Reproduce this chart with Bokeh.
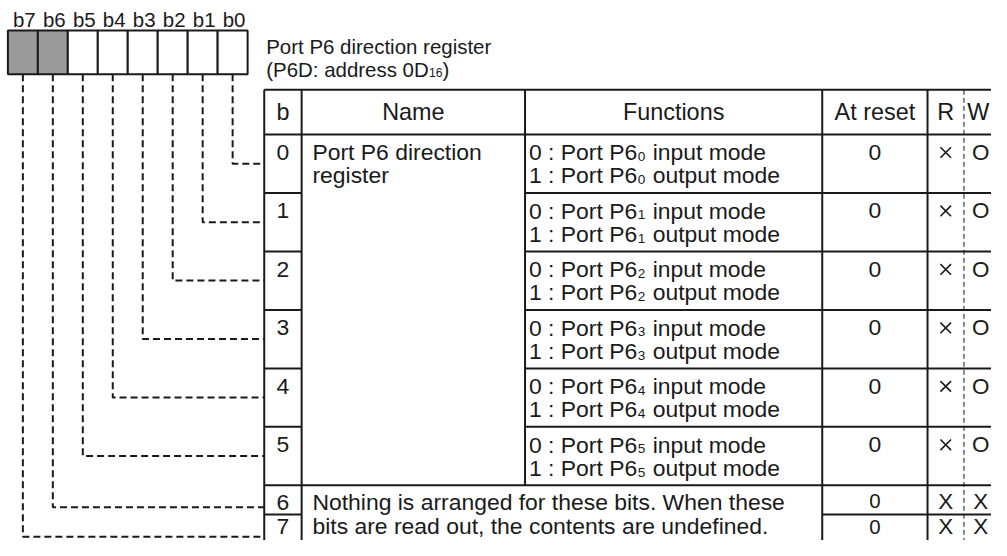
from bokeh.plotting import figure
from bokeh.models import Range1d
from bokeh.embed import file_html
from bokeh.resources import INLINE
from bokeh.core.properties import value

# ---------------- data ----------------
bit_labels = ["b7", "b6", "b5", "b4", "b3", "b2", "b1", "b0"]
bit_reserved = [True, True, False, False, False, False, False, False]
title_line1 = "Port P6 direction register"
title_line2_pre = "(P6D: address 0D"
title_line2_sub = "16"
title_line2_post = ")"
headers = ["b", "Name", "Functions", "At reset", "R", "W"]
row_bits = ["0", "1", "2", "3", "4", "5", "6", "7"]
name_lines = ["Port P6 direction", "register"]
func_prefix = ["0 : Port P6", "1 : Port P6"]
func_sub = ["0", "1", "2", "3", "4", "5"]
func_suffix = ["input mode", "output mode"]
reserved_lines = ["Nothing is arranged for these bits. When these",
                  "bits are read out, the contents are undefined."]
reset_values = ["0", "0", "0", "0", "0", "0", "0", "0"]
read_marks = ["×", "×", "×", "×", "×", "×", "X", "X"]
write_marks = ["O", "O", "O", "O", "O", "O", "X", "X"]

# ---------------- layout / style ----------------
W_PX, H_PX = 991, 540
REF_W, REF_H = 1007.0, 556.0
SX = W_PX / REF_W
FSC = 0.975           # font scale (canvas vs reference)
FONT = "Liberation Sans"
INK = "#1a1a1a"
GRAY = "#9a9a9a"

BOX_X0, CELL_W, BOX_Y0, BOX_Y1 = 7.5, 30.45, 31.0, 76.0
COLS = [268.0, 306.0, 533.0, 835.0, 942.0, 979.0, 1013.0]
HDR_TOP, HDR_BOT, ROW_H = 92.0, 138.0, 60.2
tops = [HDR_BOT + k * ROW_H for k in range(6)] + [499.2, 529.2]
bottoms = tops[1:] + [559.2]

# Arial advance widths (em) for positioning subscripts
AW = {' ': .278, ':': .278, 'P': .667, 'o': .556, 'r': .333, 't': .278, '(': .333,
      ')': .333, 'D': .722, 'a': .556, 'd': .556, 'e': .556, 's': .5}
for dgt in "0123456789":
    AW[dgt] = .556


def tw(s, size_ref):
    # width in data units of string s drawn at reference size size_ref
    return sum(AW.get(c, .556) for c in s) * size_ref * FSC / SX


p = figure(width=W_PX, height=H_PX, output_backend="svg", toolbar_location=None,
           x_range=Range1d(0, REF_W), y_range=Range1d(REF_H, 0), min_border=0)
p.axis.visible = False
p.grid.visible = False
p.outline_line_color = None
p.background_fill_color = "white"
p.border_fill_color = "white"


def txt(xs, bases, texts, size=23.5, align="left"):
    ys = [b - 0.355 * size for b in bases]
    p.text(x=xs, y=ys, text=texts, text_font=value(FONT),
           text_font_size=f"{size * FSC:.2f}px",
           text_align=align, text_baseline="middle", text_color=INK)


# ---- register box ----
lefts = [BOX_X0 + CELL_W * i for i in range(len(bit_labels))]
rights = [l + CELL_W for l in lefts]
centers = [l + CELL_W / 2 for l in lefts]
p.quad(left=lefts, right=rights, top=[BOX_Y0] * 8, bottom=[BOX_Y1] * 8,
       fill_color=[GRAY if r else "white" for r in bit_reserved],
       line_color=INK, line_width=2)
txt([c + 1.5 for c in centers], [27.0] * 8, bit_labels, size=21, align="center")

# ---- connectors ----
conn_y = [tops[k] + 30 for k in range(6)] + [tops[6] + 22.5, tops[7] + 23]
xs, ys = [], []
for i, lab in enumerate(bit_labels):
    n = int(lab[1])
    xs.append([centers[i], centers[i], COLS[0]])
    ys.append([BOX_Y1, conn_y[n], conn_y[n]])
p.multi_line(xs=xs, ys=ys, line_color=INK, line_width=2, line_dash="7 4")

# ---- title ----
TX = 270.0
txt([TX], [55.0], [title_line1], size=21)
txt([TX], [78.0], [title_line2_pre], size=21)
sx = TX + tw(title_line2_pre, 21)
txt([sx], [79.0], [title_line2_sub], size=12.5)
txt([sx + tw(title_line2_sub, 12.5)], [78.0], [title_line2_post], size=21)

# ---- table grid ----
x0s, y0s, x1s, y1s = [], [], [], []


def seg(a, b, c, d):
    x0s.append(a); y0s.append(b); x1s.append(c); y1s.append(d)


bottom = bottoms[-1]
seg(COLS[0], HDR_TOP, COLS[-1], HDR_TOP)
seg(COLS[0], HDR_BOT, COLS[-1], HDR_BOT)
seg(COLS[0], bottom, COLS[-1], bottom)
for cx in [COLS[0], COLS[1], COLS[3], COLS[4], COLS[6]]:
    seg(cx, HDR_TOP, cx, bottom)
seg(COLS[2], HDR_TOP, COLS[2], tops[6])
for k in range(1, 6):
    seg(COLS[0], tops[k], COLS[1], tops[k])
    seg(COLS[2], tops[k], COLS[-1], tops[k])
seg(COLS[0], tops[6], COLS[-1], tops[6])
seg(COLS[0], tops[7], COLS[1], tops[7])
seg(COLS[3], tops[7], COLS[-1], tops[7])
p.segment(x0=x0s, y0=y0s, x1=x1s, y1=y1s, line_color=INK, line_width=2)
p.segment(x0=[COLS[5]], y0=[HDR_TOP], x1=[COLS[5]], y1=[bottom],
          line_color=INK, line_width=1, line_dash="5 3")

# ---- header ----
col_centers = [(COLS[i] + COLS[i + 1]) / 2 for i in range(6)]
col_centers[5] = 993.5
txt(col_centers, [123.0] * 6, headers, size=24, align="center")

# ---- rows ----
l1 = [tops[k] + 26.5 for k in range(8)]
l1[6] = tops[6] + 25.8
l1[7] = tops[7] + 20.5
l2 = [tops[k] + 50.5 for k in range(6)]

txt([col_centers[0]] * 8, l1, row_bits, align="center")
txt([317.0, 317.0], [l1[0], l2[0]], name_lines)

FX = 537.0
for k, sub in enumerate(func_sub):
    for j, base in enumerate([l1[k], l2[k]]):
        pre = func_prefix[j]
        sxp = FX + tw(pre, 23.5) + 0.5
        txt([FX], [base], [pre])
        txt([sxp], [base + 1], [sub], size=14)
        txt([sxp + tw(sub, 14) + tw(" ", 23.5) + 1.0], [base], [func_suffix[j]])

txt([317.0, 317.0], [l1[6], l1[7]], reserved_lines)

# reset values
txt([col_centers[3]] * 6, l1[:6], reset_values[:6], align="center")
txt([col_centers[3]] * 2, [tops[6] + 23.8, tops[7] + 20.5], reset_values[6:],
    size=21, align="center")

# R / W marks
bases67 = {6: tops[6] + 24.5, 7: tops[7] + 20.5}
thin_x = [col_centers[4] for m in read_marks if m == "×"]
thin_y = [tops[k] + 18.5 for k, m in enumerate(read_marks) if m == "×"]
p.scatter(x=thin_x, y=thin_y, marker="x", size=15, line_color=INK, line_width=1.6)
bx = [k for k, m in enumerate(read_marks) if m == "X"]
txt([col_centers[4]] * len(bx), [bases67[k] for k in bx],
    [read_marks[k] for k in bx], size=23, align="center")
txt([996.0] * 8, [l1[k] if k < 6 else bases67[k] for k in range(8)],
    write_marks, size=23, align="center")

open("out.html", "w").write(file_html(p, INLINE))
